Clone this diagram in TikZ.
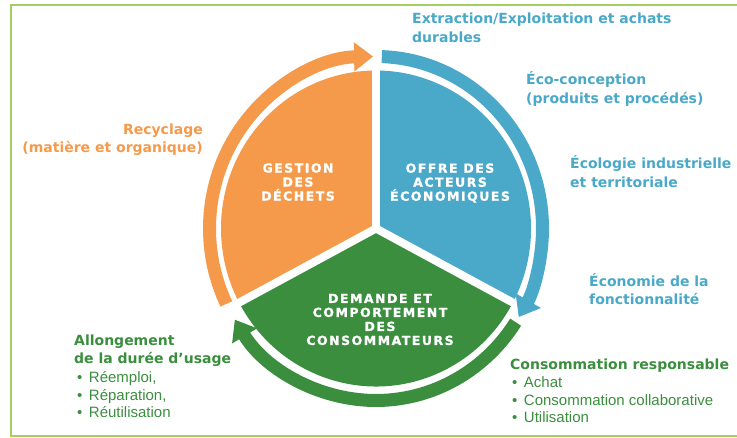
\documentclass[tikz,border=0pt]{standalone}
\usepackage{fontspec}
\setmainfont{Liberation Sans}
\newfontfamily\headfont{DejaVu Sans}
\newfontfamily\piefont{DejaVu Sans}[LetterSpace=12,FakeBold=1.2]
\usetikzlibrary{arrows.meta}
\definecolor{orangeg}{RGB}{244,154,74}
\definecolor{bluee}{RGB}{74,168,200}
\definecolor{greenc}{RGB}{58,142,62}
\definecolor{framec}{RGB}{163,206,96}

\begin{document}
\begin{tikzpicture}[x=1pt,y=1pt,
  ring/.style={line width=13pt,-{Triangle[width=28pt,length=19pt]}},
  gap/.style={draw=white,line width=8pt},
  pie label/.style={text=white,align=center,font=\piefont\bfseries\fontsize{12.5}{14}\selectfont},
  head/.style={align=left,inner sep=0pt,anchor=base west,font=\headfont\bfseries\fontsize{14}{18.5}\selectfont},
  items/.style={align=left,inner sep=0pt,anchor=base west,font=\fontsize{15}{17.5}\selectfont}]

  \useasboundingbox (0,0) rectangle (737,438);
  \begin{scope}
    \clip (0,0) rectangle (737,438);
    \draw[framec,line width=1.6pt] (11,2) rectangle (760,433);
  \end{scope}

  \coordinate (c) at (376,209.5);
  \fill[orangeg] (c) -- +(90:155 and 158) arc[start angle=90,end angle=208,x radius=155,y radius=158] -- cycle;
  \fill[greenc] (c) -- +(208:155 and 158) arc[start angle=208,end angle=332,x radius=155,y radius=158] -- cycle;
  \fill[bluee] (c) -- +(-28:155 and 158) arc[start angle=-28,end angle=90,x radius=155,y radius=158] -- cycle;
  \draw[gap] (c) -- +(90:162 and 165);
  \draw[gap] (c) -- +(208:162 and 165);
  \draw[gap] (c) -- +(332:162 and 165);

  \draw[ring,orangeg] (c) ++(206:166.5 and 172) arc[start angle=206,end angle=91,x radius=166.5,y radius=172];
  \draw[ring,bluee] (c) ++(88:166.5 and 172) arc[start angle=88,end angle=-31,x radius=166.5,y radius=172];
  \draw[ring,greenc] (c) ++(-33:166.5 and 172) arc[start angle=-33,end angle=-148,x radius=166.5,y radius=172];

  \node[pie label] (gestion) at (298,256) {GESTION\\DES\\DÉCHETS};
  \node[pie label] (offre) at (450,255) {OFFRE DES\\ACTEURS\\ÉCONOMIQUES};
  \node[pie label] (demande) at (380,118.5) {DEMANDE ET\\COMPORTEMENT\\DES\\CONSOMMATEURS};

  \node[head,text=bluee] (extraction) at (412,395.5) {Extraction/Exploitation et achats\\durables};
  \node[head,text=bluee] (ecoconception) at (526,334.5) {Éco-conception\\(produits et procédés)};
  \node[head,text=bluee] (ecologie) at (570,250.5) {Écologie industrielle\\et territoriale};
  \node[head,text=bluee] (economie) at (589,133) {Économie de la\\fonctionnalité};
  \node[head,text=orangeg,anchor=base east,align=right] (recyclage) at (203,285) {Recyclage\\(matière et organique)};
  \node[head,text=greenc] (consommation) at (510,68) {Consommation responsable};
  \node[items,text=greenc] (conso list) at (512,15) {•\hspace{6.5pt}Achat\\•\hspace{6.5pt}Consommation collaborative\\•\hspace{6.5pt}Utilisation};
  \node[head,text=greenc] (allongement) at (74,74) {Allongement\\de la durée d’usage};
  \node[items,text=greenc] (allong list) at (77,20) {•\hspace{6.5pt}Réemploi,\\•\hspace{6.5pt}Réparation,\\•\hspace{6.5pt}Réutilisation};
\end{tikzpicture}
\end{document}
